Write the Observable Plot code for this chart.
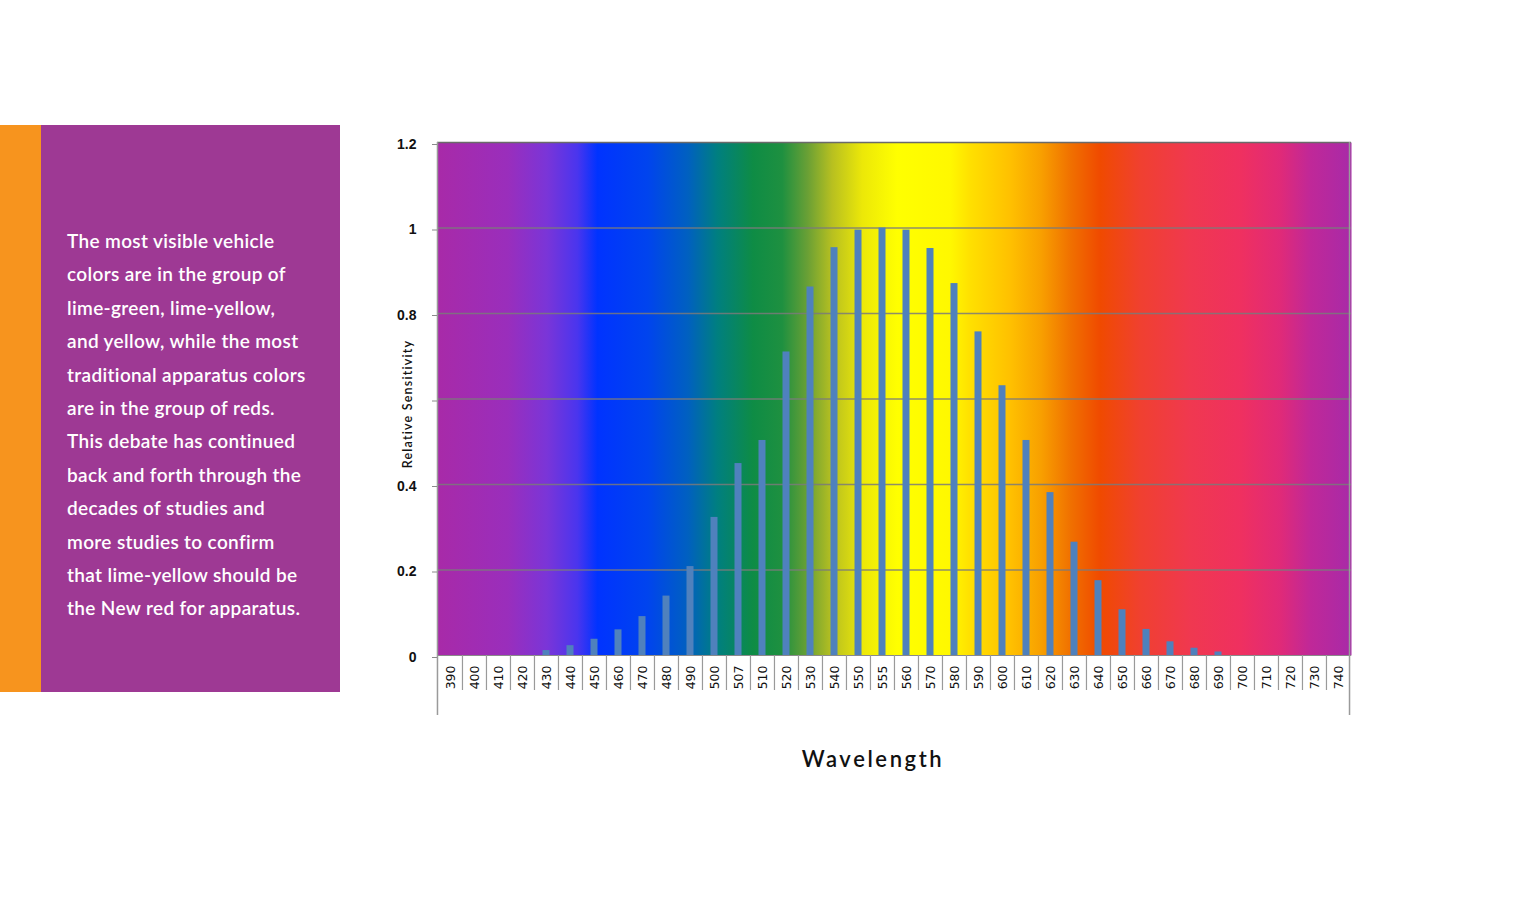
<!DOCTYPE html>
<html>
<head>
<meta charset="utf-8">
<script src="https://cdn.jsdelivr.net/npm/d3@7"></script>
<script src="https://cdn.jsdelivr.net/npm/@observablehq/plot@0.6"></script>
<style>
  html, body { margin: 0; padding: 0; background: #fff; }
  #page { position: relative; width: 1538px; height: 900px; overflow: hidden; background: #fff; }
  #stripe { position: absolute; left: 0; top: 125px; width: 41px; height: 567px; background: #f7941e; }
  #box { position: absolute; left: 41px; top: 125px; width: 299px; height: 567px; background: #9e3994; }
  #box p { position: absolute; left: 26px; top: 99px; margin: 0; color: #fff;
    font-family: Lato, "Open Sans", sans-serif; font-weight: 600; font-size: 19px; line-height: 33.4px; letter-spacing: 0.35px; white-space: nowrap; }
  #chart { position: absolute; left: 380px; top: 120px; }
  #ylabel { position: absolute; left: 308px; top: 394px; width: 200px; height: 20px; line-height: 20px; text-align: center;
    transform: rotate(-90deg); font-family: Lato, "Open Sans", sans-serif; font-weight: 600; font-size: 12.5px; letter-spacing: 1.2px; color: #111; }
  #xlabel { position: absolute; left: 723px; top: 745px; width: 300px; text-align: center;
    font-family: Lato, "Open Sans", sans-serif; font-weight: 600; font-size: 22px; letter-spacing: 2.6px; color: #111; }
</style>
</head>
<body>
<div id="page">
  <div id="stripe"></div>
  <div id="box"><p id="blurb"></p></div>
  <div id="chart"></div>
  <div id="ylabel"></div>
  <div id="xlabel"></div>
</div>
<script>
// ---- data ----
const wavelengths = ["390","400","410","420","430","440","450","460","470","480","490","500","507","510","520","530","540","550","555","560","570","580","590","600","610","620","630","640","650","660","670","680","690","700","710","720","730","740"];
const sensitivity = [0,0,0,0,0.0116,0.023,0.038,0.06,0.091,0.139,0.208,0.323,0.449,0.503,0.71,0.862,0.954,0.995,1.0,0.995,0.952,0.87,0.757,0.631,0.503,0.381,0.265,0.175,0.107,0.061,0.032,0.017,0.0082,0,0,0,0,0];
const yTicks = [0, 0.2, 0.4, 0.6, 0.8, 1.0, 1.2];
const yTickLabels = ["0", "0.2", "0.4", "", "0.8", "1", "1.2"];
const yTitle = "Relative Sensitivity";
const xTitle = "Wavelength";
const blurbLines = [
  "The most visible vehicle",
  "colors are in the group of",
  "lime-green, lime-yellow,",
  "and yellow, while the most",
  "traditional apparatus colors",
  "are in the group of reds.",
  "This debate has continued",
  "back and forth through the",
  "decades of studies and",
  "more studies to confirm",
  "that lime-yellow should be",
  "the New red for apparatus."
];

// ---- styles ----
const spectrumStops = [
  [0.000, "#a82aa8"], [0.077, "#9a2ebc"], [0.120, "#7a35d8"], [0.153, "#4a35ee"],
  [0.175, "#0033ff"], [0.230, "#0044ee"], [0.274, "#0060c0"], [0.306, "#007f80"],
  [0.345, "#0e8c45"], [0.377, "#1e9040"], [0.405, "#6aa035"], [0.432, "#b8c020"],
  [0.465, "#ece808"], [0.503, "#ffff00"], [0.561, "#fff800"], [0.583, "#ffe000"],
  [0.627, "#ffc000"], [0.660, "#f8a000"], [0.693, "#f07000"], [0.725, "#f04a00"],
  [0.769, "#f04030"], [0.824, "#f03850"], [0.879, "#ef3060"], [0.922, "#e02a78"],
  [0.955, "#c02898"], [1.000, "#a82aa8"]
];

document.getElementById("blurb").innerHTML = blurbLines.join("<br>");
document.getElementById("ylabel").textContent = yTitle;
document.getElementById("xlabel").textContent = xTitle;

const data = wavelengths.map((w, i) => ({wl: w, v: sensitivity[i]}));

const W = 1000, H = 600, mL = 57, mR = 29, mT = 22, mB = 65;
const step = (W - mL - mR) / wavelengths.length;

const plot = Plot.plot({
  width: W, height: H,
  marginLeft: mL, marginRight: mR, marginTop: mT, marginBottom: mB,
  style: {background: "transparent", overflow: "visible"},
  x: {type: "band", domain: wavelengths, padding: 0, axis: null},
  y: {domain: [0, 1.2], axis: null},
  marks: [
    Plot.frame({fill: "url(#spectrum)", stroke: "none"}),
    Plot.ruleY(yTicks.filter(d => d > 0 && d < 1.2), {stroke: "#7a7a7a", strokeWidth: 1.5, strokeOpacity: 0.85}),
    Plot.ruleY([1.2], {stroke: "#6a6a6a", strokeWidth: 1.5}),
    Plot.barY(data, {x: "wl", y: "v", fill: "#4f81bd", insetLeft: 8.5, insetRight: 8.5}),
    Plot.ruleY([0], {stroke: "#8a8a8a", strokeWidth: 1}),
    // category separators below the plot
    Plot.ruleX(wavelengths.slice(1), {x: d => d, y1: d => 0, y2: d => 0, insetBottom: -35, dx: -step / 2, stroke: "#9a9a9a", strokeWidth: 1.2}),
    // left and right edges, extended further down
    Plot.ruleX([wavelengths[0]], {x: d => d, y1: d => 1.2, y2: d => 0, insetBottom: -60, dx: -step / 2 - 1, stroke: "#9a9a9a", strokeWidth: 1.5}),
    Plot.ruleX([wavelengths[wavelengths.length - 1]], {x: d => d, y1: d => 1.2, y2: d => 0, insetBottom: -60, dx: step / 2 - 1, stroke: "#9a9a9a", strokeWidth: 1.5}),
    // y axis
    Plot.axisY(yTicks, {ticks: yTicks, tickFormat: d => yTickLabels[yTicks.indexOf(d)], tickSize: 5, tickPadding: 16,
      fontSize: 14, fontWeight: "bold", fontFamily: "'Liberation Sans', Arial, sans-serif", fill: "#111", stroke: "#8a8a8a", label: null, dy: 2}),
    // x tick labels
    Plot.text(wavelengths, {x: d => d, y: d => 0, text: d => d, rotate: -90, textAnchor: "end", dy: 10,
      fontSize: 12.5, fontFamily: "'DejaVu Sans', Verdana, sans-serif", fill: "#111"})
  ]
});

const defs = d3.create("svg:defs");
const grad = defs.append("linearGradient").attr("id", "spectrum")
  .attr("x1", "0%").attr("x2", "100%").attr("y1", "0%").attr("y2", "0%");
spectrumStops.forEach(([o, c]) => grad.append("stop").attr("offset", o).attr("stop-color", c));
plot.insertBefore(defs.node(), plot.firstChild);

document.getElementById("chart").appendChild(plot);
</script>
</body>
</html>
